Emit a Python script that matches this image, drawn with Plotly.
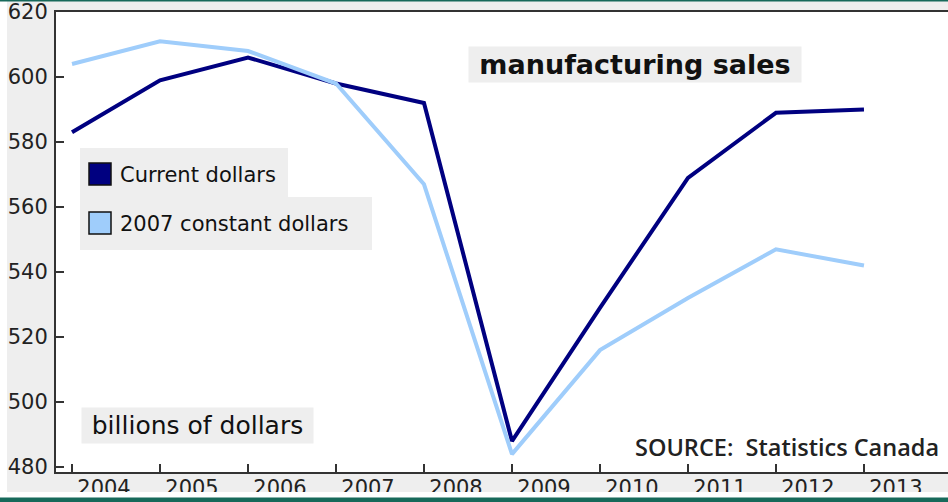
import plotly.graph_objects as go

years = [2004, 2005, 2006, 2007, 2008, 2009, 2010, 2011, 2012, 2013]
year_labels = ["2004", "2005", "2006", "2007", "2008", "2009", "2010", "2011", "2012", "2013"]
current_dollars = [583, 599, 606, 598, 592, 488, 529, 569, 589, 590]
constant_2007_dollars = [604, 611, 608, 598, 567, 484, 516, 532, 547, 542]
y_ticks = [480, 500, 520, 540, 560, 580, 600, 620]

NAVY = "#000080"
LIGHT = "#9fcdfb"
GREY = "#eeeeee"
GREEN = "#17695a"
AXIS = "#333333"
FONT = "DejaVu Sans"

W, H = 948, 502
PL, PR, PT, PB = 56, 948, 12, 472
PW, PH = PR - PL, PB - PT


def px(x):
    return (x - PL) / PW


def py(y):
    return (PB - y) / PH


fig = go.Figure()
fig.add_trace(go.Scatter(x=years, y=current_dollars, mode="lines", name="Current dollars",
                         line=dict(color=NAVY, width=4), showlegend=False))
fig.add_trace(go.Scatter(x=years, y=constant_2007_dollars, mode="lines", name="2007 constant dollars",
                         line=dict(color=LIGHT, width=4), showlegend=False))

shapes = []
# white margins and green frame strips
shapes.append(dict(type="rect", xref="paper", yref="paper", x0=px(0), x1=px(7), y0=py(502), y1=py(0),
                   fillcolor="white", line_width=0, layer="above"))
shapes.append(dict(type="rect", xref="paper", yref="paper", x0=px(0), x1=px(948), y0=py(498), y1=py(492),
                   fillcolor="white", line_width=0, layer="above"))
shapes.append(dict(type="rect", xref="paper", yref="paper", x0=px(0), x1=px(948), y0=py(502), y1=py(497.5),
                   fillcolor=GREEN, line_width=0, layer="above"))
shapes.append(dict(type="rect", xref="paper", yref="paper", x0=px(0), x1=px(948), y0=py(1.6), y1=py(0),
                   fillcolor=GREEN, line_width=0, layer="above"))
# legend boxes
shapes.append(dict(type="rect", xref="paper", yref="paper", x0=px(80), x1=px(288), y0=py(197), y1=py(148),
                   fillcolor=GREY, line_width=0, layer="below"))
shapes.append(dict(type="rect", xref="paper", yref="paper", x0=px(80), x1=px(372), y0=py(250), y1=py(197),
                   fillcolor=GREY, line_width=0, layer="below"))
# legend swatches
shapes.append(dict(type="rect", xref="paper", yref="paper", x0=px(89), x1=px(111), y0=py(185), y1=py(163),
                   fillcolor=NAVY, line=dict(color="#111111", width=1.5), layer="above"))
shapes.append(dict(type="rect", xref="paper", yref="paper", x0=px(89), x1=px(111), y0=py(234), y1=py(212),
                   fillcolor=LIGHT, line=dict(color="#111111", width=1.5), layer="above"))

annotations = [
    dict(text="Current dollars", xref="paper", yref="paper", x=px(118), y=py(175),
         xanchor="left", yanchor="middle", showarrow=False,
         font=dict(family=FONT, size=21, color="#111111")),
    dict(text="2007 constant dollars", xref="paper", yref="paper", x=px(118), y=py(224),
         xanchor="left", yanchor="middle", showarrow=False,
         font=dict(family=FONT, size=21, color="#111111")),
    dict(text="<b>manufacturing sales</b>", xref="paper", yref="paper", x=px(635), y=py(64.5),
         xanchor="center", yanchor="middle", showarrow=False, width=328, height=31, borderpad=2,
         bgcolor=GREY, font=dict(family=FONT, size=27, color="#111111")),
    dict(text="billions of dollars", xref="paper", yref="paper", x=px(197.5), y=py(425.5),
         xanchor="center", yanchor="middle", showarrow=False, width=227, height=31, borderpad=2,
         bgcolor=GREY, font=dict(family=FONT, size=25, color="#111111")),
    dict(text="SOURCE:\u00a0 Statistics Canada", xref="paper", yref="paper", x=px(941), y=py(447),
         xanchor="right", yanchor="middle", showarrow=False,
         font=dict(family="Open Sans", size=23.5, color="#222222", weight=600)),
]

fig.update_layout(
    width=W, height=H,
    margin=dict(l=PL, r=W - PR, t=PT, b=H - PB, pad=0),
    paper_bgcolor=GREY, plot_bgcolor="white",
    showlegend=False,
    shapes=shapes, annotations=annotations,
    xaxis=dict(range=[2003.818, 2013.955], tickmode="array", tickvals=years, ticktext=year_labels,
               ticks="inside", ticklen=8, tickwidth=2, tickcolor=AXIS,
               showline=True, linecolor=AXIS, linewidth=2, mirror=True,
               showgrid=False, zeroline=False, ticklabelshift=32, ticklabelstandoff=-4,
               tickfont=dict(family=FONT, size=21, color="#222222")),
    yaxis=dict(range=[478.5, 620], tickmode="array", tickvals=y_ticks,
               ticks="inside", ticklen=8, tickwidth=2, tickcolor=AXIS,
               showline=True, linecolor=AXIS, linewidth=2, mirror=False,
               showgrid=False, zeroline=False, ticklabelstandoff=2,
               tickfont=dict(family=FONT, size=21, color="#222222")),
)

fig.write_html("out.html")
